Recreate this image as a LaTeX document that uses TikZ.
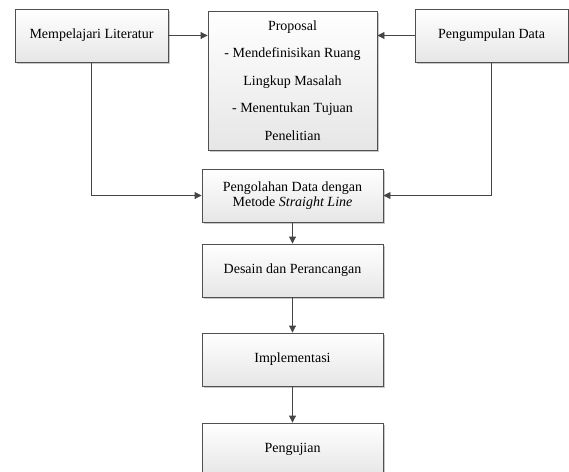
\documentclass[tikz,border=0pt]{standalone}
\usepackage{fontspec}
\setmainfont{Liberation Serif}
\usetikzlibrary{arrows.meta,shadows}
\definecolor{edgegray}{HTML}{505050}
\definecolor{arrowgray}{HTML}{454545}
\definecolor{boxbottom}{HTML}{E6E6E6}
\definecolor{shadowgray}{HTML}{C8C8C8}
\tikzset{
  procbox/.style={draw=edgegray, line width=0.9pt, top color=white, bottom color=boxbottom,
    drop shadow={shadow xshift=1.8pt, shadow yshift=-1.8pt, fill=shadowgray, opacity=1},
    inner sep=0pt, align=center, font=\fontsize{14pt}{15pt}\selectfont},
  flow/.style={draw=arrowgray, line width=0.9pt, -{Triangle[length=7pt,width=7pt]}}
}
\begin{document}
\begin{tikzpicture}[x=1pt,y=-1pt]
\useasboundingbox (0,0) rectangle (569,471);
\node[procbox, minimum width=153pt, minimum height=53pt] (lit) at (91.5,35.5) {Mempelajari Literatur};
\node[procbox, minimum width=169pt, minimum height=139pt, font=\fontsize{14pt}{27.5pt}\selectfont] (prop) at (292.5,80.5)
  {Proposal\\- Mendefinisikan Ruang\\Lingkup Masalah\\- Menentukan Tujuan\\Penelitian};
\node[procbox, minimum width=153pt, minimum height=53pt] (peng) at (491.5,35.5) {Pengumpulan Data};
\node[procbox, minimum width=181pt, minimum height=53pt] (olah) at (292.5,195.5) {Pengolahan Data dengan\\Metode \textit{Straight Line}};
\node[procbox, minimum width=181pt, minimum height=53pt] (des) at (292.5,270.5) {Desain dan Perancangan};
\node[procbox, minimum width=181pt, minimum height=53pt] (imp) at (292.5,359.5) {Implementasi};
\node[procbox, minimum width=181pt, minimum height=53pt] (uji) at (292.5,449.5) {Pengujian};
\draw[flow] (lit.east) -- (lit.east -| prop.west);
\draw[flow] (peng.west) -- (peng.west -| prop.east);
\draw[flow] (lit.south) |- (olah.west);
\draw[flow] (peng.south) |- (olah.east);
\draw[flow] (olah.south) -- (des.north);
\draw[flow] (des.south) -- (imp.north);
\draw[flow] (imp.south) -- (uji.north);
\end{tikzpicture}
\end{document}
